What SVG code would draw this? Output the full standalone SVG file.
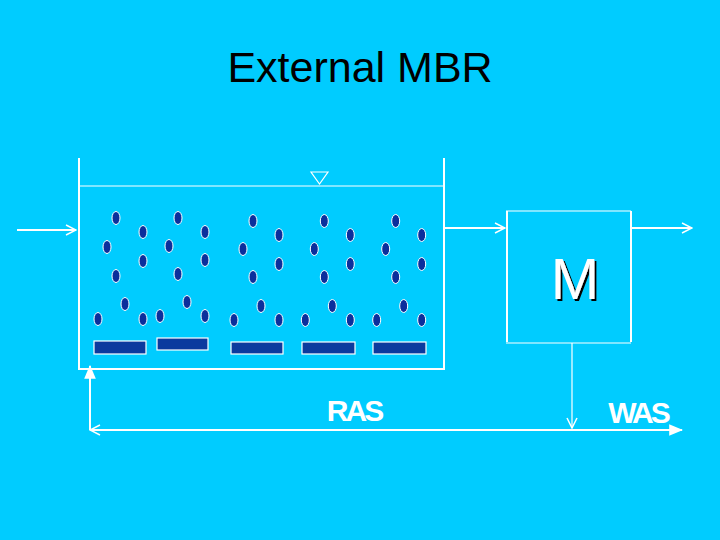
<svg xmlns="http://www.w3.org/2000/svg" width="720" height="540" viewBox="0 0 720 540">
<style>
.w{stroke:#fff;fill:none;stroke-width:2}
.t{stroke:#fff;fill:none;stroke-width:1.2}
.d{fill:#0b2f9c;stroke:#fff;stroke-width:1}
.b{fill:#0b3a9e;stroke:#fff;stroke-width:1.2}
.lab{font-family:"Liberation Sans",Arial,sans-serif;fill:#fff;font-weight:bold;letter-spacing:-3px}
</style>
<defs>
<filter id="sh" x="-20%" y="-20%" width="140%" height="140%"><feDropShadow dx="2" dy="2" stdDeviation="0" flood-color="#000"/></filter>
<marker id="open" viewBox="0 0 12 12" refX="11" refY="6" markerWidth="12" markerHeight="12" markerUnits="userSpaceOnUse" orient="auto"><path d="M1,1 L11,6 L1,11" fill="none" stroke="#fff" stroke-width="1.5"/></marker>
<marker id="fill" viewBox="0 0 12 12" refX="11" refY="6" markerWidth="14" markerHeight="14" markerUnits="userSpaceOnUse" orient="auto"><path d="M0,1 L12,6 L0,11 Z" fill="#fff"/></marker>
<ellipse id="e" rx="4" ry="6.5" class="d"/>
</defs>
<rect width="720" height="540" fill="#00ccff"/>
<text x="360" y="82" text-anchor="middle" font-family="Liberation Sans,Arial,sans-serif" font-size="43" fill="#000">External MBR</text>
<g id="tank">
<path class="w" d="M79,158 V369 H444 V158"/>
<line class="t" x1="79" y1="186" x2="444" y2="186"/>
<path class="t" d="M311,172 H328 L319.5,184 Z"/>
<g id="dots">
<use href="#e" x="116" y="218"/><use href="#e" x="178" y="218"/><use href="#e" x="143" y="232"/><use href="#e" x="205" y="232"/>
<use href="#e" x="107" y="247"/><use href="#e" x="169" y="246"/><use href="#e" x="143" y="261"/><use href="#e" x="205" y="260"/>
<use href="#e" x="116" y="276"/><use href="#e" x="178" y="274"/><use href="#e" x="125" y="304"/><use href="#e" x="187" y="302"/>
<use href="#e" x="98" y="319"/><use href="#e" x="143" y="319"/><use href="#e" x="160" y="316"/><use href="#e" x="205" y="316"/>
<g id="g2"><use href="#e" x="253" y="221"/><use href="#e" x="279" y="235"/><use href="#e" x="243" y="249"/><use href="#e" x="279" y="264"/><use href="#e" x="253" y="277"/><use href="#e" x="261" y="306"/><use href="#e" x="234" y="320"/><use href="#e" x="279" y="320"/></g>
<use href="#g2" x="71.3"/><use href="#g2" x="142.7"/>
</g>
<rect class="b" x="94" y="341" width="52" height="13"/>
<rect class="b" x="157" y="338" width="51" height="12"/>
<rect class="b" x="231" y="342" width="52" height="12"/>
<rect class="b" x="302" y="342" width="53" height="12"/>
<rect class="b" x="373" y="342" width="53" height="12"/>
</g>
<g id="membrane">
<line class="t" x1="506" y1="211" x2="631" y2="211"/>
<line class="t" x1="506" y1="343" x2="631" y2="343"/>
<line class="w" x1="507" y1="211" x2="507" y2="342"/>
<line class="w" x1="631" y1="211" x2="631" y2="342"/>
<text x="575" y="299" text-anchor="middle" font-family="Liberation Sans,Arial,sans-serif" font-size="58" fill="#fff" filter="url(#sh)">M</text>
</g>
<g id="connectors">
<line class="w" x1="17" y1="230" x2="76" y2="230" marker-end="url(#open)"/>
<line class="w" x1="445" y1="228" x2="505" y2="228" marker-end="url(#open)"/>
<line class="w" x1="632" y1="228" x2="692" y2="228" marker-end="url(#open)"/>
<line class="t" x1="572" y1="343" x2="572" y2="428" marker-end="url(#open)"/>
<line class="w" stroke-width="3" x1="92" y1="430" x2="682" y2="430" marker-end="url(#fill)"/>
<line class="w" stroke-width="3" x1="682" y1="430" x2="90" y2="430" marker-end="url(#open)"/>
<line class="w" stroke-width="3" x1="90" y1="430" x2="90" y2="366" marker-end="url(#fill)"/>
</g>
<text class="lab" x="354" y="421" text-anchor="middle" font-size="30">RAS</text>
<text class="lab" x="638" y="423" text-anchor="middle" font-size="30">WAS</text>
</svg>
